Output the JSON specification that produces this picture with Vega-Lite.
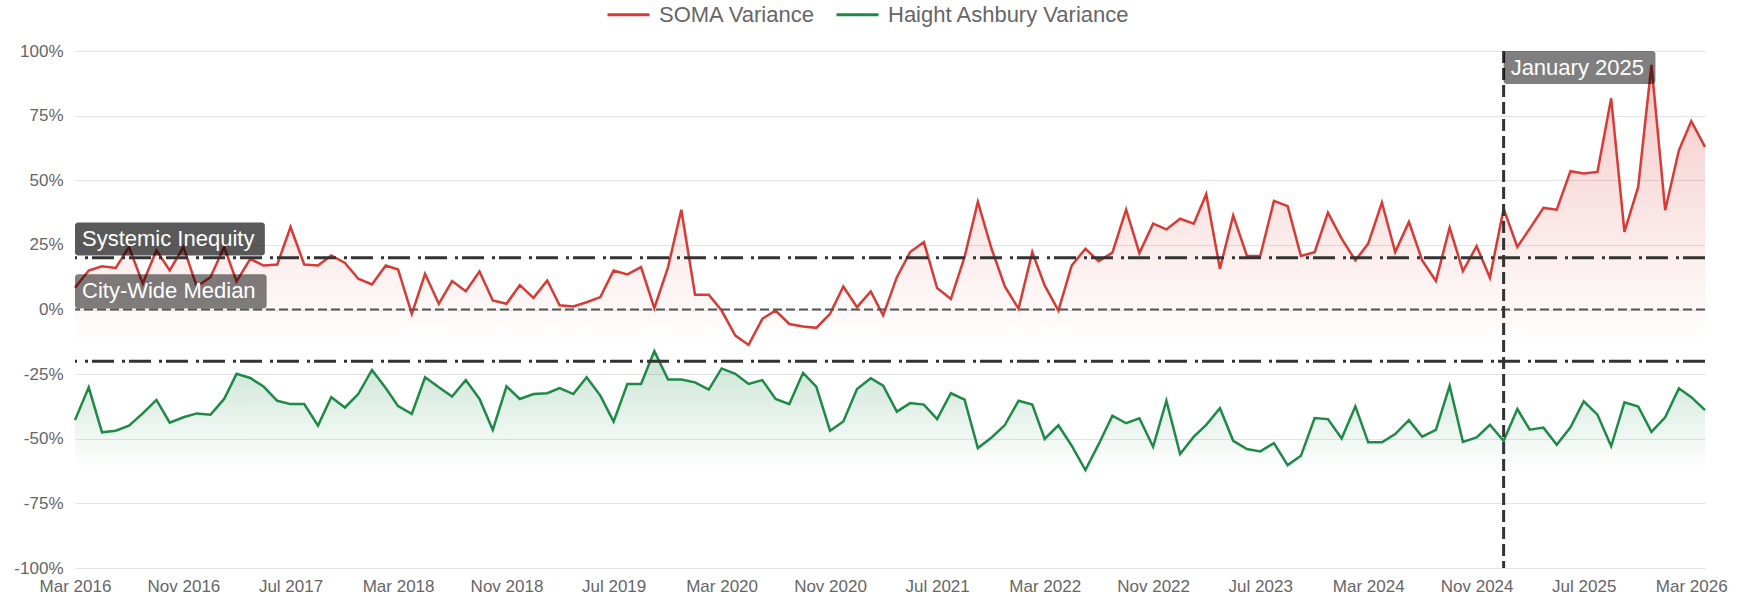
{
"$schema": "https://vega.github.io/schema/vega-lite/v6.json",
"width": 1630, "height": 517,
"autosize": {"type": "none"},
"padding": {"left": 75, "top": 51, "right": 39, "bottom": 29},
"background": "white",
"config": {
  "view": {"stroke": null},
  "font": "Liberation Sans",
  "axis": {"labelFont": "Liberation Sans", "labelFontSize": 17, "labelColor": "#666666", "domain": false, "ticks": false, "tickSize": 0, "title": null},
  "legend": {"labelFont": "Liberation Sans"}
},
"data": {"values": [
{"date":"2016-03-01","soma":8.4,"haight":-42.8},
{"date":"2016-04-01","soma":15.1,"haight":-30.1},
{"date":"2016-05-01","soma":16.7,"haight":-47.5},
{"date":"2016-06-01","soma":16.1,"haight":-46.9},
{"date":"2016-07-01","soma":24.2,"haight":-44.9},
{"date":"2016-08-01","soma":10,"haight":-40.2},
{"date":"2016-09-01","soma":22.9,"haight":-35},
{"date":"2016-10-01","soma":15.1,"haight":-43.8},
{"date":"2016-11-01","soma":24.2,"haight":-41.7},
{"date":"2016-12-01","soma":8.9,"haight":-40.2},
{"date":"2017-01-01","soma":12.5,"haight":-40.7},
{"date":"2017-02-01","soma":24.2,"haight":-34.6},
{"date":"2017-03-01","soma":10.9,"haight":-24.9},
{"date":"2017-04-01","soma":19.6,"haight":-26.5},
{"date":"2017-05-01","soma":17,"haight":-29.8},
{"date":"2017-06-01","soma":17.4,"haight":-35.3},
{"date":"2017-07-01","soma":31.9,"haight":-36.6},
{"date":"2017-08-01","soma":17.4,"haight":-36.6},
{"date":"2017-09-01","soma":17,"haight":-44.9},
{"date":"2017-10-01","soma":20.9,"haight":-33.9},
{"date":"2017-11-01","soma":18,"haight":-37.9},
{"date":"2017-12-01","soma":11.9,"haight":-32.7},
{"date":"2018-01-01","soma":9.7,"haight":-23.4},
{"date":"2018-02-01","soma":17,"haight":-30.4},
{"date":"2018-03-01","soma":15.5,"haight":-37.4},
{"date":"2018-04-01","soma":-1.7,"haight":-40.4},
{"date":"2018-05-01","soma":13.8,"haight":-26.2},
{"date":"2018-06-01","soma":2.2,"haight":-30.1},
{"date":"2018-07-01","soma":11,"haight":-33.7},
{"date":"2018-08-01","soma":7.1,"haight":-27.3},
{"date":"2018-09-01","soma":14.7,"haight":-34.6},
{"date":"2018-10-01","soma":3.5,"haight":-46.6},
{"date":"2018-11-01","soma":2.2,"haight":-29.7},
{"date":"2018-12-01","soma":9.4,"haight":-34.6},
{"date":"2019-01-01","soma":4.5,"haight":-32.7},
{"date":"2019-02-01","soma":11.2,"haight":-32.4},
{"date":"2019-03-01","soma":1.6,"haight":-30.4},
{"date":"2019-04-01","soma":1.2,"haight":-32.7},
{"date":"2019-05-01","soma":2.8,"haight":-26.2},
{"date":"2019-06-01","soma":4.8,"haight":-33.3},
{"date":"2019-07-01","soma":15.1,"haight":-43.4},
{"date":"2019-08-01","soma":13.6,"haight":-28.8},
{"date":"2019-09-01","soma":16.4,"haight":-28.8},
{"date":"2019-10-01","soma":0.5,"haight":-16.1},
{"date":"2019-11-01","soma":16.4,"haight":-27.1},
{"date":"2019-12-01","soma":38.6,"haight":-27.1},
{"date":"2020-01-01","soma":5.7,"haight":-28.2},
{"date":"2020-02-01","soma":5.7,"haight":-31},
{"date":"2020-03-01","soma":-0.4,"haight":-22.8},
{"date":"2020-04-01","soma":-10.1,"haight":-24.9},
{"date":"2020-05-01","soma":-13.7,"haight":-28.8},
{"date":"2020-06-01","soma":-3.6,"haight":-27.3},
{"date":"2020-07-01","soma":-0.4,"haight":-34.6},
{"date":"2020-08-01","soma":-5.6,"haight":-36.6},
{"date":"2020-09-01","soma":-6.6,"haight":-24.5},
{"date":"2020-10-01","soma":-7.1,"haight":-29.8},
{"date":"2020-11-01","soma":-1.7,"haight":-46.9},
{"date":"2020-12-01","soma":8.9,"haight":-43.3},
{"date":"2021-01-01","soma":0.9,"haight":-30.8},
{"date":"2021-02-01","soma":7,"haight":-26.6},
{"date":"2021-03-01","soma":-2.3,"haight":-29.5},
{"date":"2021-04-01","soma":12.5,"haight":-39.5},
{"date":"2021-05-01","soma":22.2,"haight":-36.2},
{"date":"2021-06-01","soma":26.1,"haight":-36.8},
{"date":"2021-07-01","soma":8.3,"haight":-42.4},
{"date":"2021-08-01","soma":4.1,"haight":-32.4},
{"date":"2021-09-01","soma":20.3,"haight":-34.9},
{"date":"2021-10-01","soma":41.6,"haight":-53.6},
{"date":"2021-11-01","soma":23.5,"haight":-49.5},
{"date":"2021-12-01","soma":8.9,"haight":-44.7},
{"date":"2022-01-01","soma":0.3,"haight":-35.3},
{"date":"2022-02-01","soma":22.2,"haight":-36.8},
{"date":"2022-03-01","soma":9.3,"haight":-50.1},
{"date":"2022-04-01","soma":-0.4,"haight":-44.8},
{"date":"2022-05-01","soma":17,"haight":-52.7},
{"date":"2022-06-01","soma":23.5,"haight":-62.1},
{"date":"2022-07-01","soma":18.7,"haight":-52.1},
{"date":"2022-08-01","soma":22,"haight":-41.1},
{"date":"2022-09-01","soma":38.6,"haight":-44},
{"date":"2022-10-01","soma":21.8,"haight":-42.1},
{"date":"2022-11-01","soma":33.2,"haight":-53.1},
{"date":"2022-12-01","soma":31,"haight":-35.3},
{"date":"2023-01-01","soma":35.1,"haight":-55.9},
{"date":"2023-02-01","soma":33.2,"haight":-49.2},
{"date":"2023-03-01","soma":44.6,"haight":-44.6},
{"date":"2023-04-01","soma":15.8,"haight":-38.2},
{"date":"2023-05-01","soma":36.4,"haight":-50.8},
{"date":"2023-06-01","soma":20.7,"haight":-54},
{"date":"2023-07-01","soma":20.7,"haight":-54.9},
{"date":"2023-08-01","soma":42,"haight":-51.7},
{"date":"2023-09-01","soma":40,"haight":-60.2},
{"date":"2023-10-01","soma":20.7,"haight":-56.6},
{"date":"2023-11-01","soma":22.2,"haight":-42},
{"date":"2023-12-01","soma":37.5,"haight":-42.4},
{"date":"2024-01-01","soma":27.4,"haight":-49.9},
{"date":"2024-02-01","soma":19,"haight":-37.5},
{"date":"2024-03-01","soma":25.5,"haight":-51.4},
{"date":"2024-04-01","soma":41.4,"haight":-51.4},
{"date":"2024-05-01","soma":22.2,"haight":-48.2},
{"date":"2024-06-01","soma":33.9,"haight":-42.8},
{"date":"2024-07-01","soma":19,"haight":-49.2},
{"date":"2024-08-01","soma":11,"haight":-46.6},
{"date":"2024-09-01","soma":31.7,"haight":-29.5},
{"date":"2024-10-01","soma":14.9,"haight":-51.2},
{"date":"2024-11-01","soma":24.5,"haight":-49.5},
{"date":"2024-12-01","soma":12.3,"haight":-44.6},
{"date":"2025-01-01","soma":39,"haight":-50.8},
{"date":"2025-02-01","soma":24.2,"haight":-38.5},
{"date":"2025-03-01","soma":31.3,"haight":-46.5},
{"date":"2025-04-01","soma":39.3,"haight":-45.7},
{"date":"2025-05-01","soma":38.6,"haight":-52.3},
{"date":"2025-06-01","soma":53.5,"haight":-45.6},
{"date":"2025-07-01","soma":52.6,"haight":-35.5},
{"date":"2025-08-01","soma":53.2,"haight":-40.7},
{"date":"2025-09-01","soma":81.7,"haight":-52.9},
{"date":"2025-10-01","soma":30,"haight":-35.9},
{"date":"2025-11-01","soma":47.4,"haight":-37.5},
{"date":"2025-12-01","soma":94.6,"haight":-47.3},
{"date":"2026-01-01","soma":38.4,"haight":-41.7},
{"date":"2026-02-01","soma":61.6,"haight":-30.5},
{"date":"2026-03-01","soma":72.9,"haight":-33.9},
{"date":"2026-04-01","soma":62.9,"haight":-38.9}
]},
"layer": [
{
  "mark": {"type": "area", "color": {"gradient": "linear", "x1": 0, "y1": 0, "x2": 0, "y2": 1, "stops": [{"offset": 0, "color": "rgba(214,59,53,0.28)"}, {"offset": 1, "color": "rgba(214,59,53,0)"}]}},
  "encoding": {
    "x": {"field": "date", "type": "temporal",
      "scale": {"type": "utc", "domain": [{"year": 2016, "month": 3, "date": 1, "utc": true}, {"year": 2026, "month": 4, "date": 1, "utc": true}]},
      "axis": {"grid": false, "format": "%b %Y", "labelFlush": false, "labelPadding": 10, "labelOverlap": false,
        "values": [
          {"year": 2016, "month": 3, "date": 1, "utc": true},
          {"year": 2016, "month": 11, "date": 1, "utc": true},
          {"year": 2017, "month": 7, "date": 1, "utc": true},
          {"year": 2018, "month": 3, "date": 1, "utc": true},
          {"year": 2018, "month": 11, "date": 1, "utc": true},
          {"year": 2019, "month": 7, "date": 1, "utc": true},
          {"year": 2020, "month": 3, "date": 1, "utc": true},
          {"year": 2020, "month": 11, "date": 1, "utc": true},
          {"year": 2021, "month": 7, "date": 1, "utc": true},
          {"year": 2022, "month": 3, "date": 1, "utc": true},
          {"year": 2022, "month": 11, "date": 1, "utc": true},
          {"year": 2023, "month": 7, "date": 1, "utc": true},
          {"year": 2024, "month": 3, "date": 1, "utc": true},
          {"year": 2024, "month": 11, "date": 1, "utc": true},
          {"year": 2025, "month": 7, "date": 1, "utc": true},
          {"year": 2026, "month": 3, "date": 1, "utc": true}
        ]}},
    "y": {"field": "soma", "type": "quantitative", "scale": {"domain": [-100, 100], "nice": false},
      "axis": {"values": [-100, -75, -50, -25, 0, 25, 50, 75, 100], "labelExpr": "datum.value + '%'", "gridColor": "#e4e4e4", "gridWidth": 1, "labelPadding": 12}},
    "y2": {"datum": -12}
  }
},
{
  "mark": {"type": "area", "color": {"gradient": "linear", "x1": 0, "y1": 0, "x2": 0, "y2": 1, "stops": [{"offset": 0, "color": "rgba(31,138,71,0.24)"}, {"offset": 1, "color": "rgba(31,138,71,0)"}]}},
  "encoding": {
    "x": {"field": "date", "type": "temporal", "scale": {"type": "utc"}},
    "y": {"field": "haight", "type": "quantitative"},
    "y2": {"datum": -62}
  }
},
{
  "mark": {"type": "line", "strokeWidth": 2.5},
  "encoding": {
    "x": {"field": "date", "type": "temporal", "scale": {"type": "utc"}},
    "y": {"field": "soma", "type": "quantitative"},
    "color": {"datum": "SOMA Variance", "type": "nominal",
      "scale": {"domain": ["SOMA Variance", "Haight Ashbury Variance"], "range": ["#d63b35", "#1f8a47"]},
      "legend": {"title": null, "orient": "none", "direction": "horizontal", "legendX": 531, "legendY": -59,
        "symbolType": "stroke", "symbolSize": 1764, "symbolStrokeWidth": 3, "labelFontSize": 22, "labelColor": "#666666",
        "labelOffset": 8, "labelLimit": 600, "columnPadding": 14, "padding": 0}}
  }
},
{
  "mark": {"type": "line", "strokeWidth": 2.5},
  "encoding": {
    "x": {"field": "date", "type": "temporal", "scale": {"type": "utc"}},
    "y": {"field": "haight", "type": "quantitative"},
    "color": {"datum": "Haight Ashbury Variance", "type": "nominal"}
  }
},
{
  "data": {"values": [{"level": 0}]},
  "mark": {"type": "rule", "color": "#555555", "strokeWidth": 2, "strokeDash": [9, 4]},
  "encoding": {"y": {"field": "level", "type": "quantitative"}}
},
{
  "data": {"values": [{"level": 20}, {"level": -20}]},
  "mark": {"type": "rule", "color": "#333333", "strokeWidth": 3, "strokeDash": [22, 4, 3, 8]},
  "encoding": {"y": {"field": "level", "type": "quantitative"}}
},
{
  "data": {"values": [{"event": "2025-01-01"}]},
  "mark": {"type": "rule", "color": "#333333", "strokeWidth": 3, "strokeDash": [12, 5]},
  "encoding": {"x": {"field": "event", "type": "temporal", "scale": {"type": "utc"}}}
},
{
  "data": {"values": [
    {"label": "Systemic Inequity", "x0": "2016-03-01", "x1": "2017-05-04", "y0": 20.9, "y1": 33.7, "ym": 27.3, "shade": "dark"},
    {"label": "City-Wide Median", "x0": "2016-03-01", "x1": "2017-05-08", "y0": 0.4, "y1": 13.6, "ym": 7, "shade": "light"},
    {"label": "January 2025", "x0": "2025-01-01", "x1": "2025-12-10", "y0": 87.2, "y1": 100, "ym": 93.6, "shade": "light"}
  ]},
  "layer": [
    {
      "mark": {"type": "rect", "cornerRadius": 3},
      "encoding": {
        "x": {"field": "x0", "type": "temporal", "scale": {"type": "utc"}},
        "x2": {"field": "x1"},
        "y": {"field": "y0", "type": "quantitative"},
        "y2": {"field": "y1"},
        "fill": {"field": "shade", "type": "nominal", "scale": {"domain": ["dark", "light"], "range": ["rgba(0,0,0,0.65)", "rgba(0,0,0,0.5)"]}, "legend": null}
      }
    },
    {
      "mark": {"type": "text", "align": "left", "baseline": "middle", "dx": 7, "fontSize": 22, "color": "white", "font": "Liberation Sans"},
      "encoding": {
        "x": {"field": "x0", "type": "temporal", "scale": {"type": "utc"}},
        "y": {"field": "ym", "type": "quantitative"},
        "text": {"field": "label"}
      }
    }
  ]
}
]
}
